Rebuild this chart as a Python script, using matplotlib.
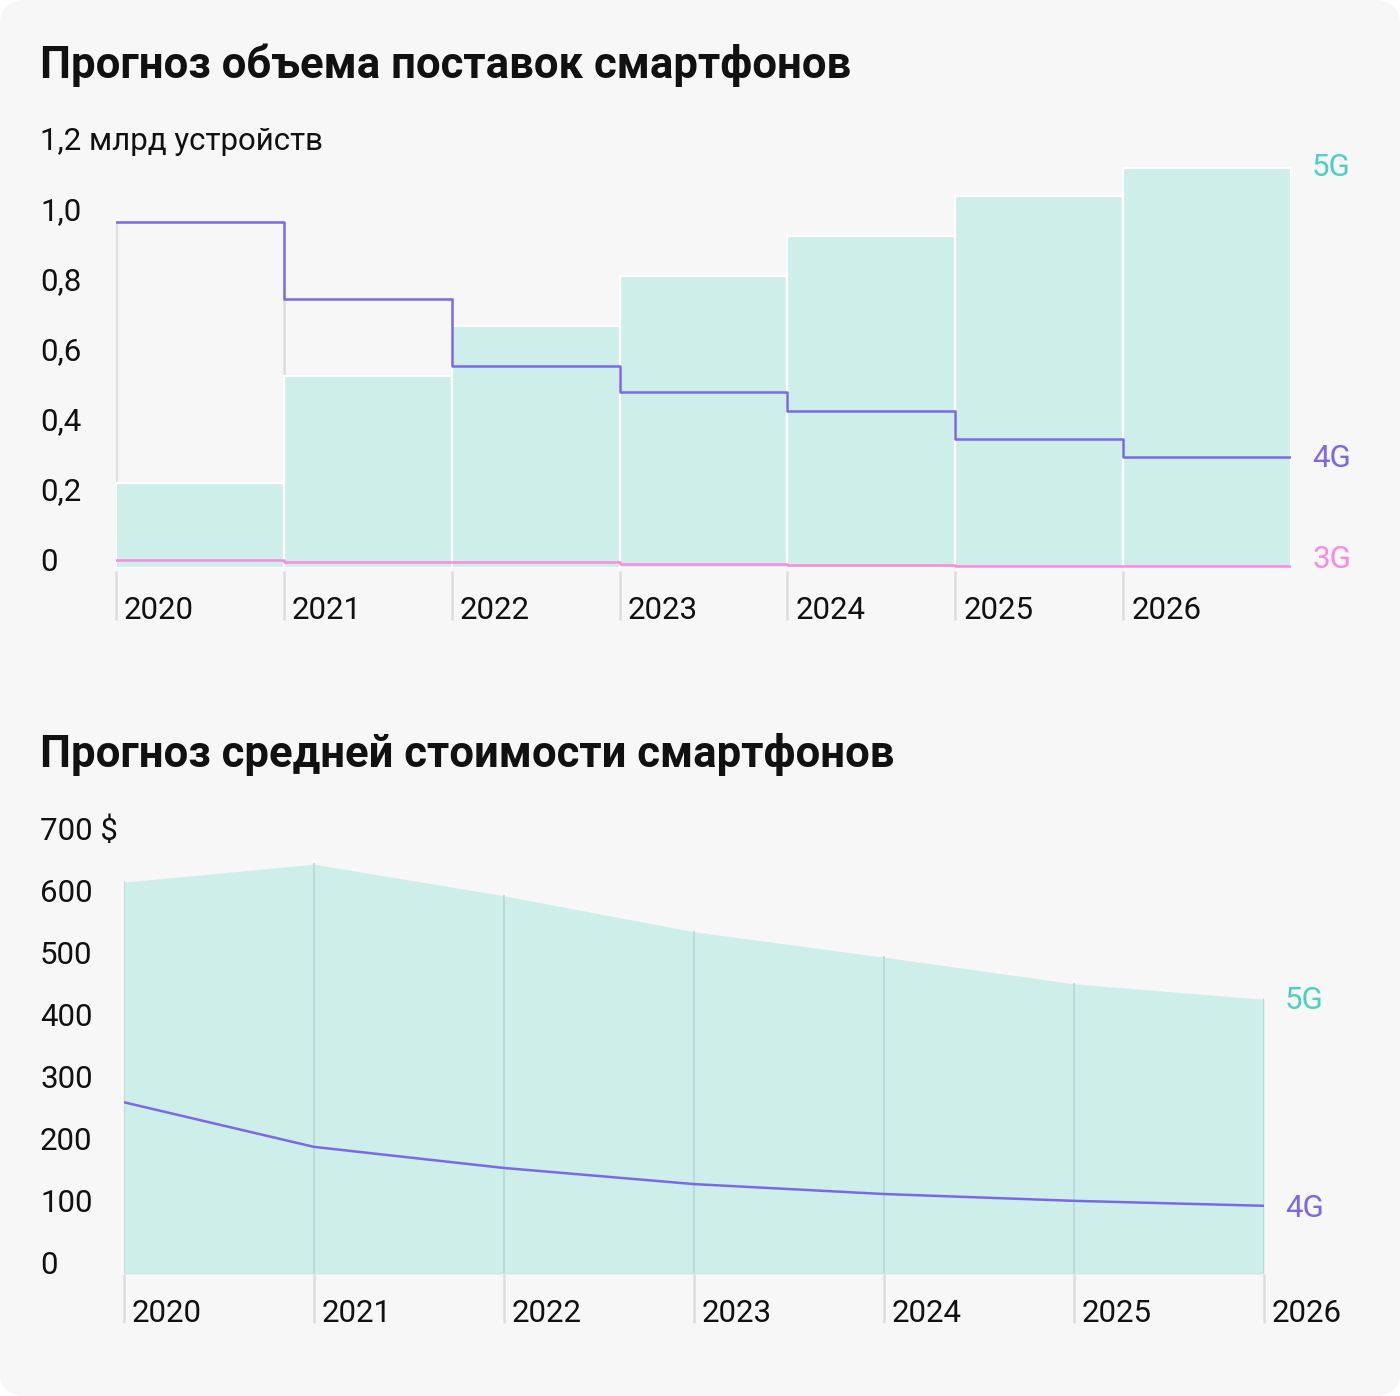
import matplotlib
matplotlib.use("Agg")
import matplotlib.pyplot as plt
from matplotlib.patches import FancyBboxPatch
from matplotlib.transforms import blended_transform_factory, ScaledTranslation

plt.rcParams['font.family'] = ['Roboto', 'DejaVu Sans']

# --- data: shipments, bln devices ---
years = ['2020', '2021', '2022', '2023', '2024', '2025', '2026']
ship_5g = [0.243, 0.549, 0.691, 0.834, 0.949, 1.063, 1.143]
ship_4g = [0.989, 0.769, 0.577, 0.503, 0.449, 0.369, 0.317]
ship_3g = [0.023, 0.018, 0.016, 0.012, 0.008, 0.007, 0.007]
ship_ticks = [0, 0.2, 0.4, 0.6, 0.8, 1.0, 1.2]
ship_ticklabels = ['0', '0,2', '0,4', '0,6', '0,8', '1,0', '1,2 млрд устройств']

# --- data: average price, $ ---
price_5g = [632, 661, 610, 552, 511, 468, 443]
price_4g = [277, 205, 171, 145, 129, 118, 110]
price_ticks = [0, 100, 200, 300, 400, 500, 600, 700]
price_ticklabels = ['0', '100', '200', '300', '400', '500', '600', '700 $']

C_BG = '#f7f7f7'
C_FILL = '#ceeeea'
C_5G = '#4fcfc3'
C_4G = '#7a68e8'
C_3G = '#f98ae0'
C_GRID = '#dddddd'
C_TEXT = '#111111'

W, H = 1400, 1396
fig = plt.figure(figsize=(W / 100, H / 100), dpi=100)
fig.patch.set_facecolor('white')
fig.patches.append(FancyBboxPatch((0, 0), 1, 1, boxstyle='round,pad=0,rounding_size=0.018',
                                  transform=fig.transFigure, facecolor=C_BG, edgecolor='none',
                                  zorder=-10))


def px_axes(x0, x1, ytop, ybot):
    return fig.add_axes([x0 / W, 1 - ybot / H, (x1 - x0) / W, (ybot - ytop) / H])


def off(dx, dy):
    return ScaledTranslation(dx / 100, dy / 100, fig.dpi_scale_trans)


def style(ax):
    ax.set_facecolor('none')
    for s in ax.spines.values():
        s.set_visible(False)
    ax.set_xticks([])
    ax.set_yticks([])


FS = 22.5
TFS = 31.5

# ---------------- top chart ----------------
ax1 = px_axes(116, 1291, 148, 568)
style(ax1)
ax1.set_xlim(0, 7)
ax1.set_ylim(0, 1.2)
n = len(years)
xs = list(range(n))

# grey gridlines behind (visible where 4G is above the bar)
for i in xs:
    ax1.plot([i, i], [0, ship_4g[i]], color=C_GRID, lw=1.8, zorder=1, solid_capstyle='butt')
ax1.bar(xs, ship_5g, width=1, align='edge', color=C_FILL, edgecolor='white', linewidth=1.6, zorder=2)
ax1.step(xs + [n], ship_4g + [ship_4g[-1]], where='post', color=C_4G, lw=1.8, zorder=3)
ax1.step(xs + [n], ship_3g + [ship_3g[-1]], where='post', color=C_3G, lw=1.8, zorder=3)

tr = blended_transform_factory(fig.transFigure, ax1.transData)
for v, lab in zip(ship_ticks, ship_ticklabels):
    fig.text(40 / W, v, lab, transform=tr + off(0, 6), ha='left', va='center', fontsize=FS, color=C_TEXT)
for i, y in enumerate(years):
    ax1.plot([i, i], [-0.008, -0.149], color=C_GRID, lw=1.8, clip_on=False, solid_capstyle='butt')
    ax1.text(i, 0, y, transform=ax1.transData + off(8, -42), ha='left', va='center', fontsize=FS, color=C_TEXT)

ax1.text(n, ship_5g[-1], '5G', transform=ax1.transData + off(21, 0), ha='left', va='center', fontsize=FS, color=C_5G)
ax1.text(n, ship_4g[-1], '4G', transform=ax1.transData + off(21, -1), ha='left', va='center', fontsize=FS, color=C_4G)
ax1.text(n, ship_3g[-1], '3G', transform=ax1.transData + off(21, 6), ha='left', va='center', fontsize=FS, color=C_3G)

fig.text(40 / W, 1 - 65 / H, 'Прогноз объема поставок смартфонов', ha='left', va='center',
         fontsize=TFS, fontweight='bold', color=C_TEXT)

# ---------------- bottom chart ----------------
ax2 = px_axes(124, 1264, 840, 1274)
style(ax2)
ax2.set_xlim(0, 6)
ax2.set_ylim(0, 700)
ax2.fill_between(xs, 0, price_5g, color=C_FILL, lw=0, zorder=1)
for i in xs:
    ax2.plot([i, i], [0, price_5g[i]], color='#b8d9d5', lw=1.3, zorder=2)
    ax2.plot([i, i], [0, -79], color=C_GRID, lw=1.8, clip_on=False, solid_capstyle='butt')
    ax2.text(i, 0, years[i], transform=ax2.transData + off(8, -40), ha='left', va='center', fontsize=FS, color=C_TEXT)
ax2.plot([0, 6], [0, 0], color=C_GRID, lw=1.8, zorder=2)
ax2.plot(xs, price_4g, color=C_4G, lw=1.8, zorder=3)

tr2 = blended_transform_factory(fig.transFigure, ax2.transData)
for v, lab in zip(price_ticks, price_ticklabels):
    fig.text(40 / W, v, lab, transform=tr2 + off(0, 9), ha='left', va='center', fontsize=FS, color=C_TEXT)

ax2.text(6, price_5g[-1], '5G', transform=ax2.transData + off(21, -1), ha='left', va='center', fontsize=FS, color=C_5G)
ax2.text(6, price_4g[-1], '4G', transform=ax2.transData + off(21, -3), ha='left', va='center', fontsize=FS, color=C_4G)

fig.text(40 / W, 1 - 754 / H, 'Прогноз средней стоимости смартфонов', ha='left', va='center',
         fontsize=TFS, fontweight='bold', color=C_TEXT)

fig.savefig('out.png', dpi=100, facecolor=fig.get_facecolor())
